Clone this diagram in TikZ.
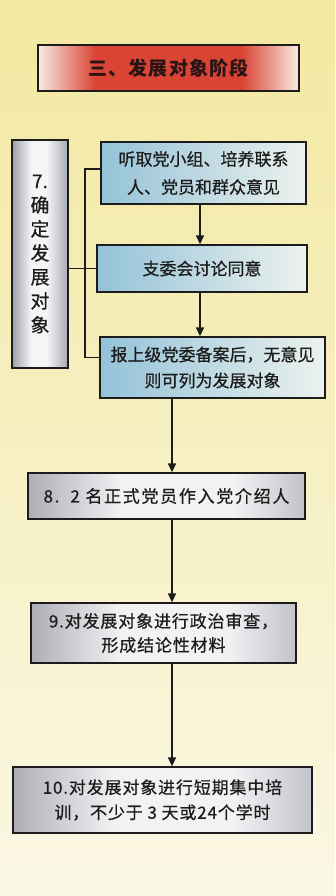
\documentclass[tikz,border=0pt]{standalone}
\usepackage{fontspec}
\setmainfont{Noto Sans CJK SC}
\usetikzlibrary{arrows.meta}
\definecolor{bgtop}{RGB}{243,232,160}
\definecolor{bgbot}{RGB}{250,247,228}
\definecolor{tred}{RGB}{218,68,52}
\definecolor{tedge}{RGB}{248,236,228}
\definecolor{bluedark}{RGB}{148,194,216}
\definecolor{bluelight}{RGB}{236,242,238}
\definecolor{ink}{RGB}{28,28,28}
\pgfdeclarehorizontalshading{titleshade}{100bp}{color(0bp)=(tedge); color(25bp)=(tedge); color(36bp)=(tred); color(64bp)=(tred); color(75bp)=(tedge); color(100bp)=(tedge)}
\pgfdeclarehorizontalshading{silvershade}{100bp}{rgb(0bp)=(0.68,0.68,0.71); rgb(25bp)=(0.68,0.68,0.71); rgb(42bp)=(0.95,0.95,0.96); rgb(62bp)=(0.95,0.95,0.96); rgb(75bp)=(0.76,0.76,0.79); rgb(100bp)=(0.76,0.76,0.79)}
\pgfdeclarehorizontalshading{silverpillar}{100bp}{rgb(0bp)=(0.62,0.62,0.66); rgb(25bp)=(0.62,0.62,0.66); rgb(42bp)=(0.96,0.96,0.97); rgb(56bp)=(0.96,0.96,0.97); rgb(75bp)=(0.66,0.66,0.70); rgb(100bp)=(0.66,0.66,0.70)}
\tikzset{
  box/.style={draw=ink, line width=1.3pt, align=center, text=ink, inner sep=0pt,
    font=\fontsize{17}{27}\selectfont\addfontfeature{FakeBold=0.6}},
  bluebox/.style={box, left color=bluedark, right color=bluelight},
  silverbox/.style={box, shading=silvershade},
  arr/.style={line width=1.4pt, draw=ink, -{Triangle[length=9pt,width=8pt]}},
  link/.style={line width=1.3pt, draw=ink},
}
\begin{document}
\begin{tikzpicture}[x=1pt,y=-1pt]
\useasboundingbox (0,0) rectangle (335,896);
\fill[top color=bgtop, bottom color=bgbot] (0,0) rectangle (335,896);

\node[box, shading=titleshade, minimum width=261pt, minimum height=46pt,
  font=\fontsize{19}{22}\selectfont\bfseries\addfontfeature{LetterSpace=6}, text={rgb,255:red,40;green,20;blue,20}]
  (T) at (168.5,68) {三、发展对象阶段};

\node[box, shading=silverpillar, minimum width=56pt, minimum height=228pt,
  font=\fontsize{19}{24}\selectfont\addfontfeature{FakeBold=0.6}] (L) at (40,254) {7.\\确\\定\\发\\展\\对\\象};

\node[bluebox, minimum width=205pt, minimum height=62pt,
  font=\fontsize{17}{28}\selectfont\addfontfeature{FakeBold=0.6}] (A) at (203.5,173) {听取党小组、培养联系\\人、党员和群众意见};
\node[bluebox, minimum width=210pt, minimum height=47pt] (B) at (202,268.5) {支委会讨论同意};
\node[bluebox, minimum width=225pt, minimum height=61pt,
  font=\fontsize{17}{26}\selectfont\addfontfeature{FakeBold=0.6}] (C) at (212.5,367.5) {报上级党委备案后，无意见\\则可列为发展对象};

\node[silverbox, minimum width=277pt, minimum height=46pt,
  font=\fontsize{17}{26}\selectfont\addfontfeature{LetterSpace=10,FakeBold=0.6}] (S8) at (166.5,496) {8.\ \ 2 名正式党员作入党介绍人};
\node[silverbox, minimum width=265pt, minimum height=60pt,
  font=\fontsize{17}{24}\selectfont\addfontfeature{LetterSpace=5,FakeBold=0.6}] (S9) at (163.5,633) {9.对发展对象进行政治审查，\\形成结论性材料};
\node[silverbox, minimum width=299pt, minimum height=66pt,
  font=\fontsize{17}{25}\selectfont\addfontfeature{LetterSpace=5,FakeBold=0.6}] (S10) at (162.5,800) {10.对发展对象进行短期集中培\\训，不少于 3 天或24个学时};

\coordinate (bx) at (85,0);
\coordinate (ax1) at (200,0);
\coordinate (ax2) at (172,0);
\coordinate (aw) at ([yshift=4pt]A.west);
\coordinate (cw) at ([yshift=10pt]C.west);

\draw[link] (aw) -| (bx |- cw) -- (cw);
\draw[link] (L.east |- B.west) -- (B.west);

\draw[arr] (A.south -| ax1) -- (B.north -| ax1);
\draw[arr] (B.south -| ax1) -- (C.north -| ax1);
\draw[arr] (C.south -| ax2) -- (S8.north -| ax2);
\draw[arr] (S8.south -| ax2) -- (S9.north -| ax2);
\draw[arr] (S9.south -| ax2) -- (S10.north -| ax2);
\end{tikzpicture}
\end{document}
